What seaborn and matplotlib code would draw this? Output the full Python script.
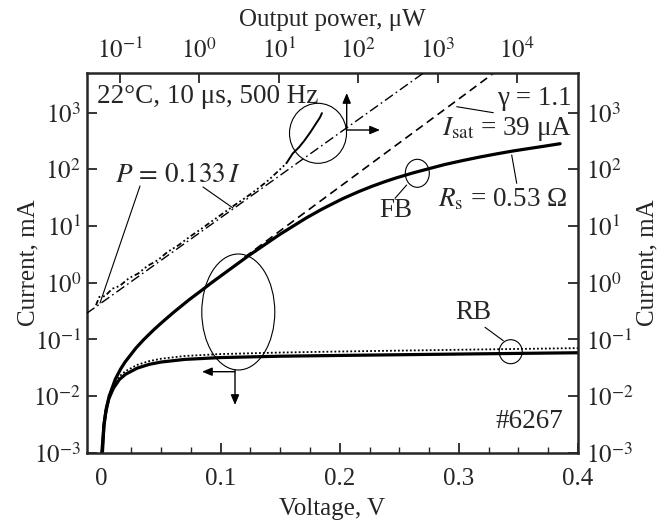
import matplotlib
matplotlib.use("Agg")
import matplotlib.pyplot as plt
from matplotlib.patches import Ellipse
from matplotlib.ticker import NullLocator, MultipleLocator
import seaborn as sns

# forward bias I-V, solid thick (bottom / left axes)
fb_voltage = [0.0, 0.0007, 0.002, 0.0034, 0.0064, 0.0116, 0.016, 0.0198, 0.0288, 0.0356, 0.0442,
              0.0508, 0.0605, 0.0735, 0.0828, 0.0924, 0.112, 0.1235, 0.139, 0.1492, 0.161, 0.1722,
              0.1854, 0.202, 0.2154, 0.2269, 0.2373, 0.2469, 0.2603, 0.2728, 0.2885, 0.3034,
              0.3178, 0.3316, 0.3452, 0.3585, 0.3719, 0.385]
fb_current = [0.0009, 0.001, 0.003, 0.005, 0.01, 0.02, 0.03, 0.04, 0.07, 0.1, 0.15,
              0.2, 0.3, 0.5, 0.7, 1.0, 2.0, 3.0, 5.0, 7.0, 10.0, 14.0,
              20.0, 30.0, 40.0, 50.0, 60.0, 70.0, 85.0, 100.0, 122.0, 143.0,
              165.0, 187.0, 210.0, 232.0, 256.0, 283.0]

# reverse bias, measured (solid) and dotted curve
rb_voltage = [0.0, 0.001, 0.002, 0.004, 0.006, 0.01, 0.015, 0.02, 0.03, 0.04, 0.05, 0.07,
              0.1, 0.15, 0.2, 0.25, 0.3, 0.35, 0.4]
rb_current = [0.0009, 0.00164, 0.00317, 0.00612, 0.00888, 0.0138, 0.0196, 0.0241, 0.0311,
              0.0362, 0.0398, 0.0443, 0.0477, 0.0504, 0.052, 0.0535, 0.055, 0.0565, 0.058]
rb_dot_current = [0.0009, 0.0018, 0.0036, 0.0069, 0.0100, 0.0156, 0.0223, 0.0274, 0.0355,
                  0.0413, 0.0455, 0.0509, 0.0550, 0.0585, 0.0610, 0.0632, 0.0655, 0.0677, 0.070]

# ideal diode, gamma = 1.1, Isat = 39 uA (dashed)
ideal_voltage = [0.12, 0.15, 0.2, 0.25, 0.3, 0.329]
ideal_current = [2.8, 8.25, 49.2, 293.0, 1746.0, 4950.0]

# current vs output power (top / right axes)
line_power = [0.038, 0.1, 1.0, 10.0, 100.0, 665.0]
line_current = [0.286, 0.752, 7.52, 75.2, 752.0, 5000.0]
meas_power = [0.05, 0.055, 0.065, 0.08, 0.1, 0.13, 0.17, 0.22, 0.3, 0.4, 0.55, 0.75, 1.0,
              1.4, 2.0, 2.8, 4.0, 5.5, 7.5, 10.0, 12.5]
meas_current = [0.40, 0.56, 0.58, 0.78, 0.88, 1.2, 1.45, 1.95, 2.5, 3.5, 4.6, 6.4, 8.4,
                11.8, 16.8, 23.5, 33.0, 46.0, 65.0, 95.0, 128.0]
tip_power = [12.5, 15.0, 18.0, 21.0, 25.0, 29.0, 33.0, 35.0]
tip_current = [128.0, 190.0, 245.0, 320.0, 450.0, 620.0, 820.0, 980.0]

# tick positions
volt_ticks = [0, 0.1, 0.2, 0.3, 0.4]
volt_labels = ["0", "0.1", "0.2", "0.3", "0.4"]
current_ticks = [1e-3, 1e-2, 1e-1, 1e0, 1e1, 1e2, 1e3]
current_labels = [r"$10^{-3}$", r"$10^{-2}$", r"$10^{-1}$", r"$10^{0}$", r"$10^{1}$", r"$10^{2}$", r"$10^{3}$"]
power_ticks = [1e-1, 1e0, 1e1, 1e2, 1e3, 1e4]
power_labels = [r"$10^{-1}$", r"$10^{0}$", r"$10^{1}$", r"$10^{2}$", r"$10^{3}$", r"$10^{4}$"]

sns.set_style("ticks")
plt.rcParams["font.family"] = ["Liberation Serif", "DejaVu Serif"]
plt.rcParams["mathtext.fontset"] = "stix"
FS = 18      # axis texts
AFS = 19.5   # annotations inside the plot

fig = plt.figure(figsize=(6.59, 5.25), dpi=100)
L, R, B, T = 86.7, 578.0, 452.7, 73.0
pos = [L / 659, 1 - B / 525, (R - L) / 659, (B - T) / 525]
ax = fig.add_axes(pos)
ax2 = fig.add_axes(pos, frameon=False)


def frac(x, y):
    # pixel position in the picture -> axes fraction
    return ((x - L) / (R - L), (B - y) / (B - T))


# voltage / current axes
ax.set_yscale("log")
sns.lineplot(x=fb_voltage, y=fb_current, ax=ax, color="black", lw=2.3, sort=False, estimator=None)
sns.lineplot(x=rb_voltage, y=rb_current, ax=ax, color="black", lw=2.3, sort=False, estimator=None)
sns.lineplot(x=rb_voltage, y=rb_dot_current, ax=ax, color="black", lw=1.3, ls=(0, (1, 1.2)),
             sort=False, estimator=None)
sns.lineplot(x=ideal_voltage, y=ideal_current, ax=ax, color="black", lw=1.2, ls=(0, (5, 3)),
             sort=False, estimator=None)
ax.set_xlim(-0.0125, 0.4)
ax.set_ylim(1e-3, 5000)
ax.set_xticks(volt_ticks)
ax.set_xticklabels(volt_labels)
ax.set_yticks(current_ticks)
ax.set_yticklabels(current_labels)
ax.xaxis.set_minor_locator(MultipleLocator(0.025))
ax.yaxis.set_minor_locator(NullLocator())
ax.tick_params(which="major", direction="in", length=7, width=1.3, labelsize=FS)
ax.tick_params(which="minor", direction="in", length=4, width=1.0)
ax.tick_params(axis="x", pad=11)
ax.tick_params(axis="y", pad=4)
ax.set_xlabel("Voltage, V", fontsize=FS, labelpad=6)
ax.set_ylabel("Current, mA", fontsize=FS)
ax.yaxis.set_label_coords(*frac(39, 262.9))
for s in ax.spines.values():
    s.set_linewidth(1.8)

# output power / current axes
ax2.set_xscale("log")
ax2.set_yscale("log")
sns.lineplot(x=line_power, y=line_current, ax=ax2, color="black", lw=1.0, ls=(0, (7, 2.5, 1.2, 2.5)),
             sort=False, estimator=None)
sns.lineplot(x=meas_power, y=meas_current, ax=ax2, color="black", lw=1.3,
             ls=(0, (3, 1.5, 1, 1.5, 1, 1.5)), sort=False, estimator=None)
sns.lineplot(x=tip_power, y=tip_current, ax=ax2, color="black", lw=1.4, sort=False, estimator=None)
ax2.set_xlim(0.0382, 58600)
ax2.set_ylim(1e-3, 5000)
ax2.xaxis.tick_top()
ax2.yaxis.tick_right()
ax2.xaxis.set_label_position("top")
ax2.yaxis.set_label_position("right")
ax2.set_xticks(power_ticks)
ax2.set_xticklabels(power_labels)
ax2.set_yticks(current_ticks)
ax2.set_yticklabels(current_labels)
ax2.xaxis.set_minor_locator(NullLocator())
ax2.yaxis.set_minor_locator(NullLocator())
ax2.tick_params(which="major", direction="in", length=7, width=1.3, labelsize=FS)
ax2.tick_params(axis="x", pad=7.5)
ax2.tick_params(axis="y", pad=6)
ax2.set_xlabel("Output power, μW", fontsize=FS, labelpad=8)
ax2.set_ylabel("Current, mA", fontsize=FS, rotation=90)
ax2.yaxis.set_label_coords(*frac(636, 262.9))

# ellipses and arrows
for cx, cy, w, h in [(318, 133.3, 57, 60), (238.3, 312, 73, 116), (417.3, 173.3, 24, 28), (510.7, 351.7, 23, 24)]:
    fx, fy = frac(cx, cy)
    ax.add_patch(Ellipse((fx, fy), w / (R - L), h / (B - T), transform=ax.transAxes,
                         fill=False, ec="black", lw=0.8))

arrow = dict(arrowstyle="-|>,head_length=0.6,head_width=0.25", color="black", lw=1.0, shrinkA=0, shrinkB=0)
for (x0, y0), (x1, y1) in [((346.7, 130), (380, 130)), ((346.7, 130), (346.7, 93)),
                           ((235, 371.7), (202, 371.7)), ((235, 370), (235, 405))]:
    ax.annotate("", xy=frac(x1, y1), xytext=frac(x0, y0), xycoords="axes fraction",
                textcoords="axes fraction", arrowprops=arrow)

# leader lines
for (x0, y0), (x1, y1) in [((140, 186), (100, 303)), ((203, 187), (233, 208)),
                           ((456.7, 106.7), (493.3, 112.7)), ((511.7, 155), (516.7, 183.3)),
                           ((406.7, 185), (395, 198.3)), ((503.3, 340.7), (485, 327.3))]:
    (a, b), (c, d) = frac(x0, y0), frac(x1, y1)
    ax.plot([a, c], [b, d], transform=ax.transAxes, color="black", lw=0.8)


# texts
def put(x, y, s, ha="left"):
    ax.text(*frac(x, y), s, transform=ax.transAxes, fontsize=AFS, ha=ha, va="baseline")


put(96.7, 103.3, "22°C, 10 μs, 500 Hz")
put(115, 181.7, r"$P\,=\,0.133\,I$")
put(572, 105, "γ = 1.1", ha="right")
put(572, 135, r"$I_{\rm sat}$ = 39 μA", ha="right")
put(567, 206.7, r"$R_{\rm s}$ = 0.53 Ω", ha="right")
put(396, 217.3, "FB", ha="center")
put(473, 319.3, "RB", ha="center")
put(563, 428.3, "#6267", ha="right")

fig.savefig("out.png", dpi=100)
